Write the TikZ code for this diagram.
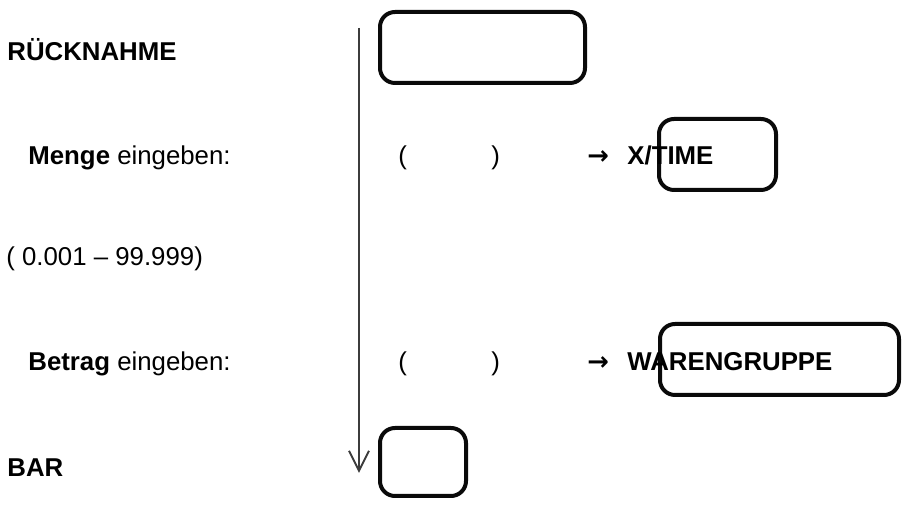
\documentclass[tikz,border=0pt]{standalone}
\usepackage{fontspec}
\setmainfont{Liberation Sans}
\newfontfamily\arrowfont{DejaVu Sans}
\usetikzlibrary{arrows.meta}
\definecolor{keyLine} {RGB}{10, 10, 10}
\definecolor{flowLine}{RGB}{60, 60, 60}

\tikzset{
  txt/.style={anchor=base west,inner sep=0pt,font=\fontsize{12.9}{15}\selectfont},
  keybox/.style={draw=keyLine,line width=2pt,rounded corners=7.5pt},
}

\begin{document}
\begin{tikzpicture}[x=0.5pt,y=-0.5pt]
    \useasboundingbox (0,0) rectangle (912,506);

    % ─── Linke Spalte ─────────────────────────────────────
    \node[txt] (ruecknahme) at (7,61)  {\bfseries RÜCKNAHME};
    \node[txt] (menge)      at (28,165) {\textbf{Menge} eingeben:};
    \node[txt] (bereich)    at (6,266) {( 0.001 -- 99.999)};
    \node[txt] (betrag)     at (28,371) {\textbf{Betrag} eingeben:};
    \node[txt] (bar)        at (7,477) {\bfseries BAR};

    % ─── Ablaufpfeil ──────────────────────────────────────
    \coordinate (flowTop) at (359,28);
    \coordinate (flowEnd) at (359,473);
    \draw[-{Straight Barb[length=10pt,width=10pt]},flowLine,line width=1pt]
      (flowTop) -- (flowEnd);

    % ─── Tasten ───────────────────────────────────────────
    \draw[keybox] (380,12) rectangle (585,83);   % Ruecknahme-Taste
    \draw[keybox] (659,119) rectangle (776,190); % X/TIME
    \draw[keybox] (660,324) rectangle (899,395); % Warengruppe
    \draw[keybox] (380,428) rectangle (466,496); % Bar

    % ─── Zeile 1: Menge ───────────────────────────────────
    \node[txt] (klauf1) at (398,165) {(};
    \node[txt] (klzu1)  at (491,165) {)};
    \node[txt] (pfeil1) at (587,165) {\arrowfont\bfseries →};
    \node[txt] (xtime)  at (627,165) {\bfseries X/TIME};

    % ─── Zeile 2: Betrag ──────────────────────────────────
    \node[txt] (klauf2) at (398,371) {(};
    \node[txt] (klzu2)  at (491,371) {)};
    \node[txt] (pfeil2) at (587,371) {\arrowfont\bfseries →};
    \node[txt] (wgr)    at (627,371) {\bfseries WARENGRUPPE};

\end{tikzpicture}
\end{document}
